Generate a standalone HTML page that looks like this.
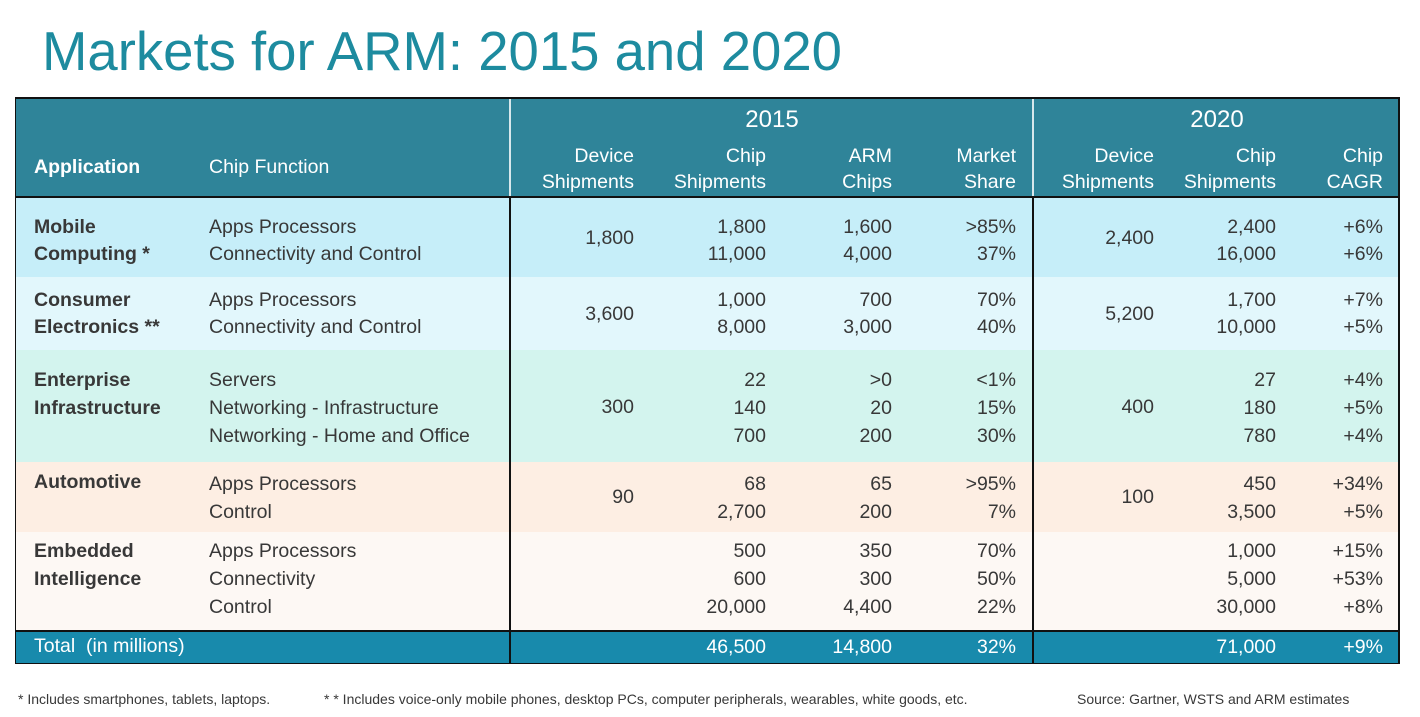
<!DOCTYPE html>
<html><head><meta charset="utf-8"><style>
body{margin:0;width:1420px;height:717px;background:#fff;position:relative;overflow:hidden;font-family:"Liberation Sans",sans-serif;color:#383838}
div{position:absolute;}
.t{font-size:19.5px;line-height:24px;white-space:nowrap}
.b{font-weight:bold}
.w{color:#fff}
.band{left:16px;width:1384px}
.vl{width:2px;background:#111}
</style></head><body>
<svg style="position:absolute;left:0;top:0" width="900" height="90"><text x="42" y="70" font-family="Liberation Sans, sans-serif" font-size="55" fill="#1d8b9f" textLength="800" lengthAdjust="spacingAndGlyphs">Markets for ARM: 2015 and 2020</text></svg>

<div style="left:15px;top:97px;width:1385px;height:567px;border:2px solid #111;box-sizing:border-box"></div>
<div class="band" style="top:99px;height:97px;background:#2f8499"></div>
<div class="band" style="top:196px;height:81px;background:#c6eef9;border-top:2px solid #111;box-sizing:border-box"></div>
<div class="band" style="top:277px;height:73px;background:#e2f7fc"></div>
<div class="band" style="top:350px;height:112px;background:#d3f4ee"></div>
<div class="band" style="top:462px;height:70px;background:#fdeee3"></div>
<div class="band" style="top:532px;height:98px;background:#fdf8f4"></div>
<div class="band" style="top:630px;height:33px;background:#188aac;border-top:2px solid #111;box-sizing:border-box"></div>
<div style="left:509px;top:99px;width:2px;height:97px;background:#d8e8ec"></div>
<div style="left:1032px;top:99px;width:2px;height:97px;background:#d8e8ec"></div>
<div class="vl" style="left:509px;top:196px;height:467px"></div>
<div class="vl" style="left:1032px;top:196px;height:467px"></div>
<div class="vl" style="left:1398px;top:97px;height:567px"></div>

<!-- header -->
<div class="t w" style="left:712px;top:108px;width:120px;text-align:center;font-size:24px">2015</div>
<div class="t w" style="left:1157px;top:108px;width:120px;text-align:center;font-size:24px">2020</div>
<div class="t w b" style="left:34px;top:155px">Application</div>
<div class="t w" style="left:209px;top:155px">Chip Function</div>
<div class="t w" style="right:786px;top:143px;text-align:right;line-height:26px">Device<br>Shipments</div>
<div class="t w" style="right:654px;top:143px;text-align:right;line-height:26px">Chip<br>Shipments</div>
<div class="t w" style="right:528px;top:143px;text-align:right;line-height:26px">ARM<br>Chips</div>
<div class="t w" style="right:404px;top:143px;text-align:right;line-height:26px">Market<br>Share</div>
<div class="t w" style="right:266px;top:143px;text-align:right;line-height:26px">Device<br>Shipments</div>
<div class="t w" style="right:144px;top:143px;text-align:right;line-height:26px">Chip<br>Shipments</div>
<div class="t w" style="right:37px;top:143px;text-align:right;line-height:26px">Chip<br>CAGR</div>

<!-- mobile -->
<div class="t b" style="left:34px;top:214px;line-height:27px">Mobile<br>Computing *</div>
<div class="t" style="left:209px;top:214px;line-height:27px">Apps Processors<br>Connectivity and Control</div>
<div class="t" style="right:786px;top:226px">1,800</div>
<div class="t" style="right:654px;top:214px;text-align:right;line-height:27px">1,800<br>11,000</div>
<div class="t" style="right:528px;top:214px;text-align:right;line-height:27px">1,600<br>4,000</div>
<div class="t" style="right:404px;top:214px;text-align:right;line-height:27px">&gt;85%<br>37%</div>
<div class="t" style="right:266px;top:226px">2,400</div>
<div class="t" style="right:144px;top:214px;text-align:right;line-height:27px">2,400<br>16,000</div>
<div class="t" style="right:37px;top:214px;text-align:right;line-height:27px">+6%<br>+6%</div>

<!-- consumer -->
<div class="t b" style="left:34px;top:287px;line-height:27px">Consumer<br>Electronics **</div>
<div class="t" style="left:209px;top:287px;line-height:27px">Apps Processors<br>Connectivity and Control</div>
<div class="t" style="right:786px;top:302px">3,600</div>
<div class="t" style="right:654px;top:287px;text-align:right;line-height:27px">1,000<br>8,000</div>
<div class="t" style="right:528px;top:287px;text-align:right;line-height:27px">700<br>3,000</div>
<div class="t" style="right:404px;top:287px;text-align:right;line-height:27px">70%<br>40%</div>
<div class="t" style="right:266px;top:302px">5,200</div>
<div class="t" style="right:144px;top:287px;text-align:right;line-height:27px">1,700<br>10,000</div>
<div class="t" style="right:37px;top:287px;text-align:right;line-height:27px">+7%<br>+5%</div>

<!-- enterprise -->
<div class="t b" style="left:34px;top:366px;line-height:28px">Enterprise<br>Infrastructure</div>
<div class="t" style="left:209px;top:366px;line-height:28px">Servers<br>Networking - Infrastructure<br>Networking - Home and Office</div>
<div class="t" style="right:786px;top:395px">300</div>
<div class="t" style="right:654px;top:366px;text-align:right;line-height:28px">22<br>140<br>700</div>
<div class="t" style="right:528px;top:366px;text-align:right;line-height:28px">&gt;0<br>20<br>200</div>
<div class="t" style="right:404px;top:366px;text-align:right;line-height:28px">&lt;1%<br>15%<br>30%</div>
<div class="t" style="right:266px;top:395px">400</div>
<div class="t" style="right:144px;top:366px;text-align:right;line-height:28px">27<br>180<br>780</div>
<div class="t" style="right:37px;top:366px;text-align:right;line-height:28px">+4%<br>+5%<br>+4%</div>

<!-- automotive -->
<div class="t b" style="left:34px;top:470px">Automotive</div>
<div class="t" style="left:209px;top:470px;line-height:28px">Apps Processors<br>Control</div>
<div class="t" style="right:786px;top:485px">90</div>
<div class="t" style="right:654px;top:470px;text-align:right;line-height:28px">68<br>2,700</div>
<div class="t" style="right:528px;top:470px;text-align:right;line-height:28px">65<br>200</div>
<div class="t" style="right:404px;top:470px;text-align:right;line-height:28px">&gt;95%<br>7%</div>
<div class="t" style="right:266px;top:485px">100</div>
<div class="t" style="right:144px;top:470px;text-align:right;line-height:28px">450<br>3,500</div>
<div class="t" style="right:37px;top:470px;text-align:right;line-height:28px">+34%<br>+5%</div>

<!-- embedded -->
<div class="t b" style="left:34px;top:537px;line-height:28px">Embedded<br>Intelligence</div>
<div class="t" style="left:209px;top:537px;line-height:28px">Apps Processors<br>Connectivity<br>Control</div>
<div class="t" style="right:654px;top:537px;text-align:right;line-height:28px">500<br>600<br>20,000</div>
<div class="t" style="right:528px;top:537px;text-align:right;line-height:28px">350<br>300<br>4,400</div>
<div class="t" style="right:404px;top:537px;text-align:right;line-height:28px">70%<br>50%<br>22%</div>
<div class="t" style="right:144px;top:537px;text-align:right;line-height:28px">1,000<br>5,000<br>30,000</div>
<div class="t" style="right:37px;top:537px;text-align:right;line-height:28px">+15%<br>+53%<br>+8%</div>

<!-- total -->
<div class="t w" style="left:34px;top:634px">Total&nbsp; (in millions)</div>
<div class="t w" style="right:654px;top:635px">46,500</div>
<div class="t w" style="right:528px;top:635px">14,800</div>
<div class="t w" style="right:404px;top:635px">32%</div>
<div class="t w" style="right:144px;top:635px">71,000</div>
<div class="t w" style="right:37px;top:635px">+9%</div>

<!-- footnotes -->
<div class="t" style="left:18px;top:689px;font-size:14px;line-height:20px">* Includes smartphones, tablets, laptops.</div>
<div class="t" style="left:324px;top:689px;font-size:14px;line-height:20px">* * Includes voice-only mobile phones, desktop PCs, computer peripherals, wearables, white goods, etc.</div>
<div class="t" style="left:1077px;top:689px;font-size:14px;line-height:20px">Source: Gartner, WSTS and ARM estimates</div>
</body></html>
